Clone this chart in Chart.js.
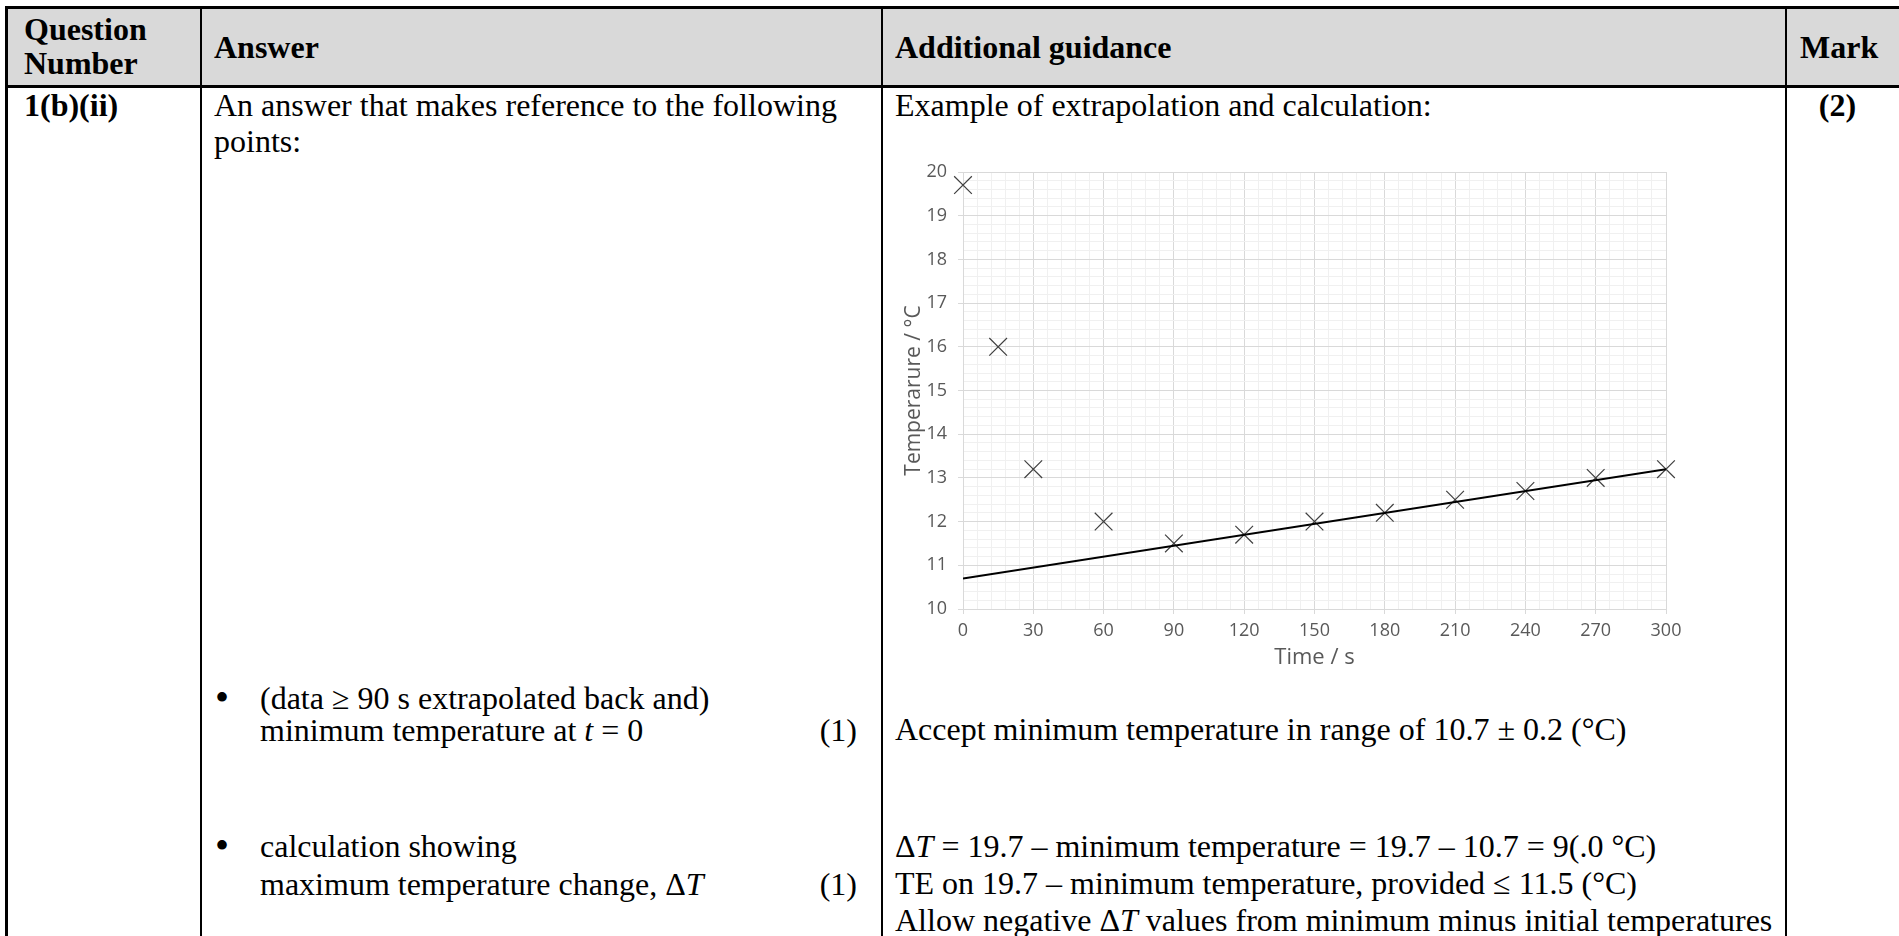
<!DOCTYPE html>
<html>
<head>
<meta charset="utf-8">
<script src="https://cdn.jsdelivr.net/npm/chart.js@4/dist/chart.umd.min.js"></script>
<style>
  html, body { margin: 0; padding: 0; background: #fff; }
  body { width: 1899px; height: 936px; position: relative; overflow: hidden;
         font-family: "Liberation Serif", "Times New Roman", serif; font-size: 32px; color: #000; }
  .ln { position: absolute; background: #000; }
  .t { position: absolute; white-space: nowrap; line-height: 36px; }
  .b { font-weight: bold; }
  .bul { font-size: 40px; }
  #head { position: absolute; left: 6px; top: 7px; width: 1900px; height: 79px; background: #d9d9d9; }
  #chartBox { position: absolute; left: 890px; top: 150px; width: 800px; height: 529px; }
</style>
</head>
<body>
<div id="head"></div>

<!-- table rules -->
<div class="ln" style="left:5px; top:6px; width:1900px; height:3px;"></div>
<div class="ln" style="left:5px; top:85px; width:1900px; height:3px;"></div>
<div class="ln" style="left:5px; top:6px; width:3px; height:940px;"></div>
<div class="ln" style="left:200px; top:6px; width:2px; height:940px;"></div>
<div class="ln" style="left:881px; top:6px; width:2px; height:940px;"></div>
<div class="ln" style="left:1785px; top:6px; width:2px; height:940px;"></div>

<!-- header -->
<div class="t b" style="left:24px; top:11px;">Question</div>
<div class="t b" style="left:24px; top:45px;">Number</div>
<div class="t b" style="left:214px; top:29px;">Answer</div>
<div class="t b" style="left:895px; top:29px;">Additional guidance</div>
<div class="t b" style="left:1800px; top:29px;">Mark</div>

<!-- row -->
<div class="t b" style="left:24px; top:87px;">1(b)(ii)</div>
<div class="t" style="left:214px; top:87px;">An answer that makes reference to the following</div>
<div class="t" style="left:214px; top:123px;">points:</div>
<div class="t" style="left:895px; top:87px;">Example of extrapolation and calculation:</div>
<div class="t b" style="left:1786px; width:103px; text-align:center; top:87px;">(2)</div>

<div class="t bul" style="left:215px; top:680px;">&#8226;</div>
<div class="t" style="left:260px; top:680px;">(data &#8805; 90 s extrapolated back and)</div>
<div class="t" style="left:260px; top:712px;">minimum temperature at <i>t</i> = 0</div>
<div class="t" style="left:700px; width:157px; text-align:right; top:712px;">(1)</div>
<div class="t" style="left:895px; top:711px;">Accept minimum temperature in range of 10.7 &#177; 0.2 (&#176;C)</div>

<div class="t bul" style="left:215px; top:828px;">&#8226;</div>
<div class="t" style="left:260px; top:828px;">calculation showing</div>
<div class="t" style="left:260px; top:866px;">maximum temperature change, &#916;<i>T</i></div>
<div class="t" style="left:700px; width:157px; text-align:right; top:866px;">(1)</div>
<div class="t" style="left:895px; top:828px;">&#916;<i>T</i> = 19.7 &#8211; minimum temperature = 19.7 &#8211; 10.7 = 9(.0 &#176;C)</div>
<div class="t" style="left:895px; top:865px;">TE on 19.7 &#8211; minimum temperature, provided &#8804; 11.5 (&#176;C)</div>
<div class="t" style="left:895px; top:902px;">Allow negative &#916;<i>T</i> values from minimum minus initial temperatures</div>

<div id="chartBox"><canvas id="chart_temp"></canvas></div>

<script>
var time_s = [0, 15, 30, 60, 90, 120, 150, 180, 210, 240, 270, 300];
var temp_c = [19.7, 16.0, 13.2, 12.0, 11.5, 11.7, 12.0, 12.2, 12.5, 12.7, 13.0, 13.2];
// extrapolated line of best fit (data >= 90 s)
var fit_time = [0, 300];
var fit_temp = [10.7, 13.2];
// axes
var x_range = [0, 300];
var y_range = [10, 20];
var x_major = 30, x_minor = 6;
var y_major = 1, y_minor = 0.2;

var major_grid = "#d9d9d9";
var minor_grid = "#f0f0f0";
var label_col = "#595959";

function isMajor(v, step) {
    var q = v / step;
    return Math.abs(q - Math.round(q)) < 1e-6;
}

function toPoints(xs, ys) {
    var pts = [];
    for (var i = 0; i < xs.length; i++) {
        pts.push({x: xs[i], y: ys[i]});
    }
    return pts;
}

function drawTempChart() {
    var ctx = document.getElementById("chart_temp").getContext("2d");
    var tickFont = {family: "'Open Sans', 'Noto Sans', sans-serif", size: 18};
    var titleFont = {family: "'Open Sans', 'Noto Sans', sans-serif", size: 21};

    new Chart(ctx, {
        type: "scatter",
        data: {
            datasets: [{
                label: "fit",
                type: "line",
                data: toPoints(fit_time, fit_temp),
                borderColor: "#000",
                borderWidth: 2,
                pointRadius: 0,
                fill: false
            }, {
                label: "temperature",
                data: toPoints(time_s, temp_c),
                pointStyle: "crossRot",
                pointRadius: 12.5,
                borderColor: "#404040",
                borderWidth: 1.2,
                backgroundColor: "#404040",
                clip: false
            }]
        },
        options: {
            responsive: true,
            maintainAspectRatio: false,
            animation: false,
            layout: {padding: {top: 22, right: 24, bottom: 0, left: 0}},
            plugins: {legend: {display: false}, tooltip: {enabled: false}},
            scales: {
                x: {
                    type: "linear",
                    min: x_range[0],
                    max: x_range[1],
                    afterFit: function(s) { s.height = 70; },
                    border: {color: major_grid, width: 1},
                    grid: {
                        tickLength: 5,
                        color: function(c) { return isMajor(c.tick.value, x_major) ? major_grid : minor_grid; },
                        tickColor: function(c) { return isMajor(c.tick.value, x_major) ? major_grid : "rgba(0,0,0,0)"; }
                    },
                    ticks: {
                        stepSize: x_minor,
                        autoSkip: false,
                        maxRotation: 0,
                        padding: 6,
                        color: label_col,
                        font: tickFont,
                        callback: function(v) { return isMajor(v, x_major) ? String(Math.round(v)) : ""; }
                    },
                    title: {display: true, text: "Time / s", color: label_col,
                            font: {family: titleFont.family, size: 22}, padding: {top: 0, bottom: 8}}
                },
                y: {
                    type: "linear",
                    min: y_range[0],
                    max: y_range[1],
                    afterFit: function(s) { s.width = 73; },
                    border: {color: major_grid, width: 1},
                    grid: {
                        tickLength: 5,
                        color: function(c) { return isMajor(c.tick.value, y_major) ? major_grid : minor_grid; },
                        tickColor: function(c) { return isMajor(c.tick.value, y_major) ? major_grid : "rgba(0,0,0,0)"; }
                    },
                    ticks: {
                        stepSize: y_minor,
                        autoSkip: false,
                        padding: 11,
                        color: label_col,
                        font: tickFont,
                        callback: function(v) { return isMajor(v, y_major) ? String(Math.round(v)) : ""; }
                    },
                    title: {display: true, text: "Temperarure / \u00B0C", color: label_col, font: titleFont, padding: {top: 11, bottom: 0}}
                }
            }
        }
    });
}

drawTempChart();
</script>
</body>
</html>
